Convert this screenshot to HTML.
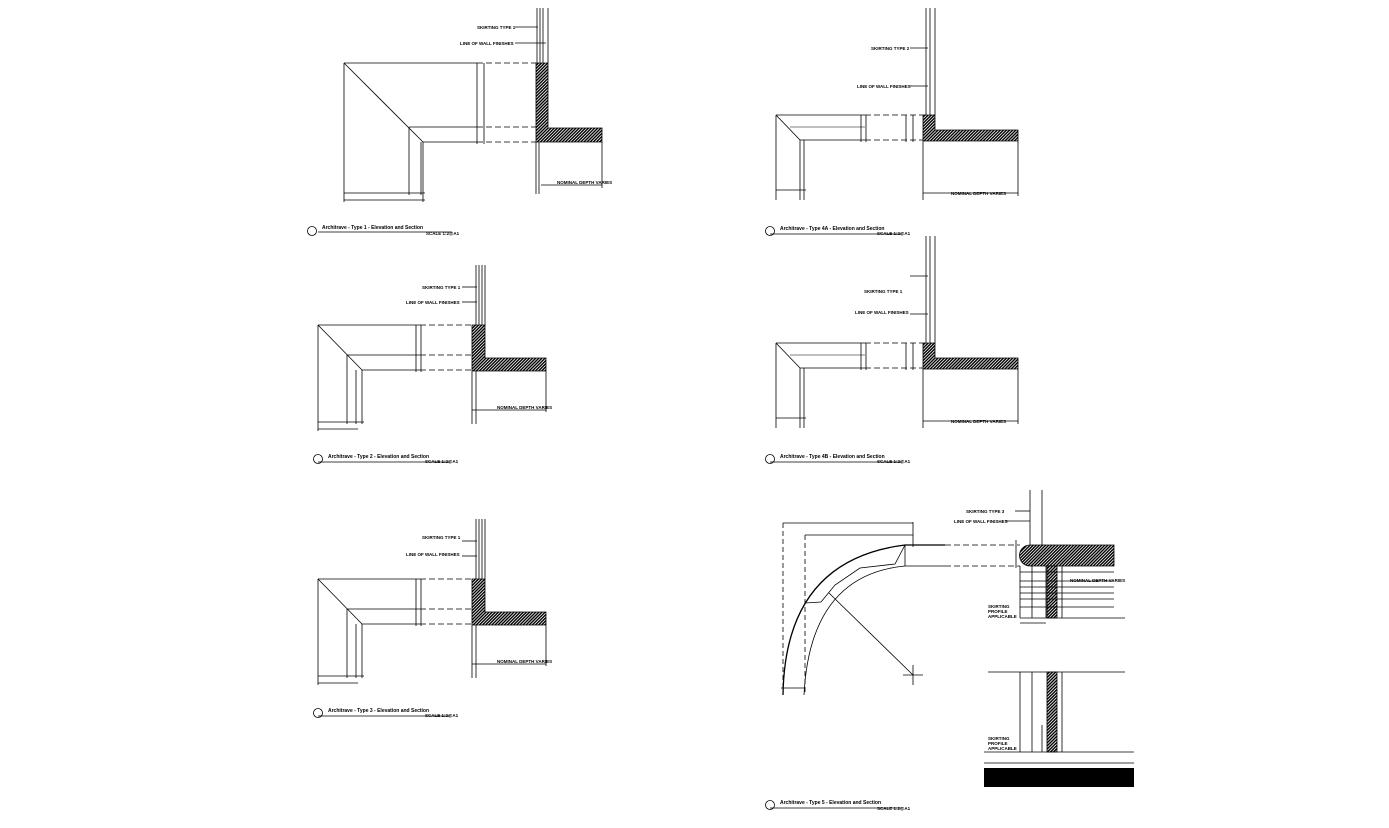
<!DOCTYPE html>
<html><head><meta charset="utf-8"><style>
html,body{margin:0;padding:0;background:#fff;}
svg{display:block;}
text{font-family:"Liberation Sans",sans-serif;font-weight:bold;font-size:4.5px;fill:#000;}
.t{font-size:5px;}
</style></head><body>
<svg width="1389" height="828" viewBox="0 0 1389 828" xmlns="http://www.w3.org/2000/svg">
<defs>
<pattern id="h" width="2.2" height="2.2" patternUnits="userSpaceOnUse" patternTransform="rotate(45)">
<rect width="2.2" height="2.2" fill="#fff"/><rect width="1.4" height="2.2" fill="#000"/></pattern>
<g id="t2" stroke="#000" stroke-width="0.8" fill="none">
<line x1="318" y1="325" x2="420" y2="325"/><line x1="420" y1="325" x2="472" y2="325" stroke-dasharray="6,3"/>
<line x1="318" y1="325" x2="362" y2="370"/>
<line x1="347" y1="355" x2="420" y2="355"/><line x1="420" y1="355" x2="472" y2="355" stroke-dasharray="6,3"/>
<line x1="362" y1="370" x2="420" y2="370"/><line x1="420" y1="370" x2="472" y2="370" stroke-dasharray="6,3"/>
<line x1="347" y1="355" x2="347" y2="424"/><line x1="356" y1="370" x2="356" y2="424"/><line x1="362" y1="370" x2="362" y2="424"/>
<line x1="318" y1="325" x2="318" y2="431"/>
<line x1="416" y1="325" x2="416" y2="372"/><line x1="421" y1="325" x2="421" y2="372"/>
<line x1="318" y1="422" x2="364" y2="422"/><line x1="318" y1="429" x2="358" y2="429"/>
<line x1="476" y1="265" x2="476" y2="325"/><line x1="479" y1="265" x2="479" y2="325"/><line x1="482" y1="265" x2="482" y2="325"/><line x1="485" y1="265" x2="485" y2="325"/>
<line x1="472" y1="371" x2="472" y2="424"/><line x1="476" y1="371" x2="476" y2="424"/>
<polygon points="472,325 485,325 485,358 546,358 546,371 472,371" fill="url(#h)"/>
<line x1="462" y1="287" x2="477" y2="287"/><line x1="462" y1="302" x2="477" y2="302"/>
<line x1="472" y1="410" x2="546" y2="410"/><line x1="546" y1="371" x2="546" y2="412"/>
<line x1="318" y1="462" x2="450" y2="462"/>
<circle cx="318" cy="459" r="4.5"/>
</g>
<g id="t2t">
<text x="422" y="289">SKIRTING TYPE 1</text>
<text x="406" y="304">LINE OF WALL FINISHES</text>
<text x="497" y="409">NOMINAL DEPTH VARIES</text>
<text x="328" y="458" class="t">Architrave - Type 2 - Elevation and Section</text>
<text x="425" y="463">SCALE 1:2@A1</text>
</g>
<g id="t4" stroke="#000" stroke-width="0.8" fill="none">
<line x1="776" y1="115" x2="865" y2="115"/><line x1="865" y1="115" x2="923" y2="115" stroke-dasharray="6,3"/>
<line x1="776" y1="115" x2="800" y2="140"/>
<line x1="790" y1="127" x2="865" y2="127" stroke-width="0.5"/>
<line x1="800" y1="140" x2="865" y2="140"/><line x1="865" y1="140" x2="923" y2="140" stroke-dasharray="6,3"/>
<line x1="776" y1="115" x2="776" y2="200"/><line x1="800" y1="140" x2="800" y2="200"/><line x1="804" y1="140" x2="804" y2="200"/>
<line x1="861" y1="115" x2="861" y2="142"/><line x1="866" y1="115" x2="866" y2="142"/>
<line x1="906" y1="115" x2="906" y2="142"/><line x1="913" y1="115" x2="913" y2="142"/>
<line x1="776" y1="190" x2="806" y2="190"/>
<line x1="926" y1="8" x2="926" y2="115"/><line x1="930" y1="8" x2="930" y2="115"/><line x1="935" y1="8" x2="935" y2="115"/>
<line x1="923" y1="141" x2="923" y2="200"/>
<polygon points="923,115 935,115 935,130 1018,130 1018,141 923,141" fill="url(#h)"/>
<line x1="910" y1="48" x2="928" y2="48"/><line x1="910" y1="86" x2="928" y2="86"/>
<line x1="923" y1="193" x2="1018" y2="193"/><line x1="1018" y1="141" x2="1018" y2="196"/>
<line x1="770" y1="234" x2="902" y2="234"/>
<circle cx="770" cy="231" r="4.5"/>
</g>
<g id="t4t">
<text x="871" y="50">SKIRTING TYPE 2</text>
<text x="857" y="88">LINE OF WALL FINISHES</text>
<text x="951" y="195">NOMINAL DEPTH VARIES</text>
<text x="780" y="230" class="t">Architrave - Type 4A - Elevation and Section</text>
<text x="877" y="235">SCALE 1:2@A1</text>
</g>
</defs>

<!-- Type 1 -->
<g stroke="#000" stroke-width="0.8" fill="none">
<line x1="344" y1="63" x2="477" y2="63"/><line x1="477" y1="63" x2="536" y2="63" stroke-dasharray="6,3"/>
<line x1="344" y1="63" x2="423" y2="142"/>
<line x1="409" y1="127" x2="477" y2="127"/><line x1="477" y1="127" x2="536" y2="127" stroke-dasharray="6,3"/>
<line x1="423" y1="142" x2="477" y2="142"/><line x1="477" y1="142" x2="540" y2="142" stroke-dasharray="6,3"/>
<line x1="409" y1="127" x2="409" y2="195"/><line x1="421" y1="142" x2="421" y2="195"/><line x1="423" y1="142" x2="423" y2="202"/>
<line x1="344" y1="63" x2="344" y2="202"/>
<line x1="477" y1="63" x2="477" y2="144"/><line x1="484" y1="63" x2="484" y2="144"/>
<line x1="344" y1="193" x2="425" y2="193"/><line x1="344" y1="200" x2="425" y2="200"/>
<line x1="537" y1="8" x2="537" y2="63"/><line x1="540" y1="8" x2="540" y2="63"/><line x1="543" y1="8" x2="543" y2="63"/><line x1="548" y1="8" x2="548" y2="63"/>
<line x1="536" y1="142" x2="536" y2="194"/><line x1="539" y1="142" x2="539" y2="194"/>
<polygon points="536,63 548,63 548,128 602,128 602,142 536,142" fill="url(#h)"/>
<line x1="515" y1="27" x2="538" y2="27"/><line x1="515" y1="43" x2="546" y2="43"/>
<line x1="541" y1="185" x2="602" y2="185"/><line x1="602" y1="142" x2="602" y2="188"/>
<line x1="318" y1="232" x2="452" y2="232"/>
<circle cx="312" cy="231" r="4.5"/>
</g>
<text x="477" y="29">SKIRTING TYPE 1</text>
<text x="460" y="45">LINE OF WALL FINISHES</text>
<text x="557" y="184">NOMINAL DEPTH VARIES</text>
<text x="322" y="229" class="t">Architrave - Type 1 - Elevation and Section</text>
<text x="426" y="235">SCALE 1:2@A1</text>

<use href="#t2"/><use href="#t2t"/>
<g transform="translate(0,254)"><use href="#t2"/></g>
<g transform="translate(0,254)">
<text x="422" y="285">SKIRTING TYPE 1</text>
<text x="406" y="302">LINE OF WALL FINISHES</text>
<text x="497" y="409">NOMINAL DEPTH VARIES</text>
<text x="328" y="458" class="t">Architrave - Type 3 - Elevation and Section</text>
<text x="425" y="463">SCALE 1:2@A1</text>
</g>

<use href="#t4"/><use href="#t4t"/>
<g transform="translate(0,228)"><use href="#t4"/></g>
<g transform="translate(0,228)">
<text x="864" y="65">SKIRTING TYPE 1</text>
<text x="855" y="86">LINE OF WALL FINISHES</text>
<text x="951" y="195">NOMINAL DEPTH VARIES</text>
<text x="780" y="230" class="t">Architrave - Type 4B - Elevation and Section</text>
<text x="877" y="235">SCALE 1:2@A1</text>
</g>

<!-- Type 5 -->
<g stroke="#000" stroke-width="0.8" fill="none">
<path d="M783,695 Q785,560 905,545 L945,545" stroke-width="1.3"/>
<path d="M804,695 Q810,575 905,566 L945,566"/>
<line x1="945" y1="545" x2="1020" y2="545" stroke-dasharray="6,3"/>
<line x1="945" y1="566" x2="1020" y2="566" stroke-dasharray="6,3"/>
<path d="M805,603 L821,602 L835,585 L860,568 L895,564 L905,545 L922,545"/>
<line x1="783" y1="523" x2="913" y2="523"/><line x1="805" y1="535" x2="913" y2="535"/>
<line x1="913" y1="522" x2="913" y2="547"/>
<line x1="783" y1="523" x2="783" y2="695" stroke-dasharray="5,3"/>
<line x1="805" y1="535" x2="805" y2="695" stroke-dasharray="5,3"/>
<line x1="905" y1="545" x2="905" y2="566"/>
<line x1="829" y1="593" x2="913" y2="675"/>
<line x1="903" y1="675" x2="923" y2="675"/><line x1="913" y1="665" x2="913" y2="685"/>
<line x1="781" y1="688" x2="805" y2="688"/>
<line x1="1016" y1="540" x2="1016" y2="568"/>
<line x1="1030" y1="490" x2="1030" y2="545"/><line x1="1042" y1="490" x2="1042" y2="545"/>
<path d="M1030,545 L1114,545 L1114,566 L1030,566 A10.5,10.5 0 0 1 1030,545 Z" fill="url(#h)"/>
<line x1="1020" y1="566" x2="1020" y2="618"/><line x1="1032" y1="566" x2="1032" y2="618"/>
<line x1="1046" y1="566" x2="1046" y2="618"/><line x1="1062" y1="566" x2="1062" y2="618"/>
<rect x="1047" y="566" width="10" height="52" fill="url(#h)"/>
<line x1="1020" y1="572" x2="1114" y2="572"/><line x1="1020" y1="581" x2="1114" y2="581"/>
<line x1="1020" y1="587" x2="1114" y2="587"/><line x1="1020" y1="593" x2="1114" y2="593"/>
<line x1="1020" y1="599" x2="1114" y2="599"/><line x1="1020" y1="607" x2="1114" y2="607"/>
<line x1="1020" y1="618" x2="1125" y2="618"/>
<line x1="1020" y1="623" x2="1046" y2="623"/>
<line x1="1015" y1="511" x2="1030" y2="511"/><line x1="1005" y1="521" x2="1030" y2="521"/>
<line x1="988" y1="672" x2="1125" y2="672"/>
<line x1="1020" y1="672" x2="1020" y2="752"/><line x1="1032" y1="672" x2="1032" y2="752"/>
<line x1="1062" y1="672" x2="1062" y2="752"/>
<rect x="1047" y="672" width="10" height="80" fill="url(#h)"/>
<line x1="984" y1="752" x2="1134" y2="752"/><line x1="984" y1="763" x2="1134" y2="763"/>
<line x1="1042" y1="725" x2="1042" y2="752"/>
<line x1="770" y1="808" x2="902" y2="808"/>
<circle cx="770" cy="805" r="4.5"/>
</g>
<rect x="984" y="768" width="150" height="19" fill="#000"/>
<text x="966" y="513">SKIRTING TYPE 3</text>
<text x="954" y="523">LINE OF WALL FINISHES</text>
<text x="1070" y="582">NOMINAL DEPTH VARIES</text>
<text x="988" y="608">SKIRTING</text>
<text x="988" y="613">PROFILE</text>
<text x="988" y="618">APPLICABLE</text>
<text x="988" y="740">SKIRTING</text>
<text x="988" y="745">PROFILE</text>
<text x="988" y="750">APPLICABLE</text>
<text x="780" y="804" class="t">Architrave - Type 5 - Elevation and Section</text>
<text x="877" y="810">SCALE 1:2@A1</text>
</svg>
</body></html>
